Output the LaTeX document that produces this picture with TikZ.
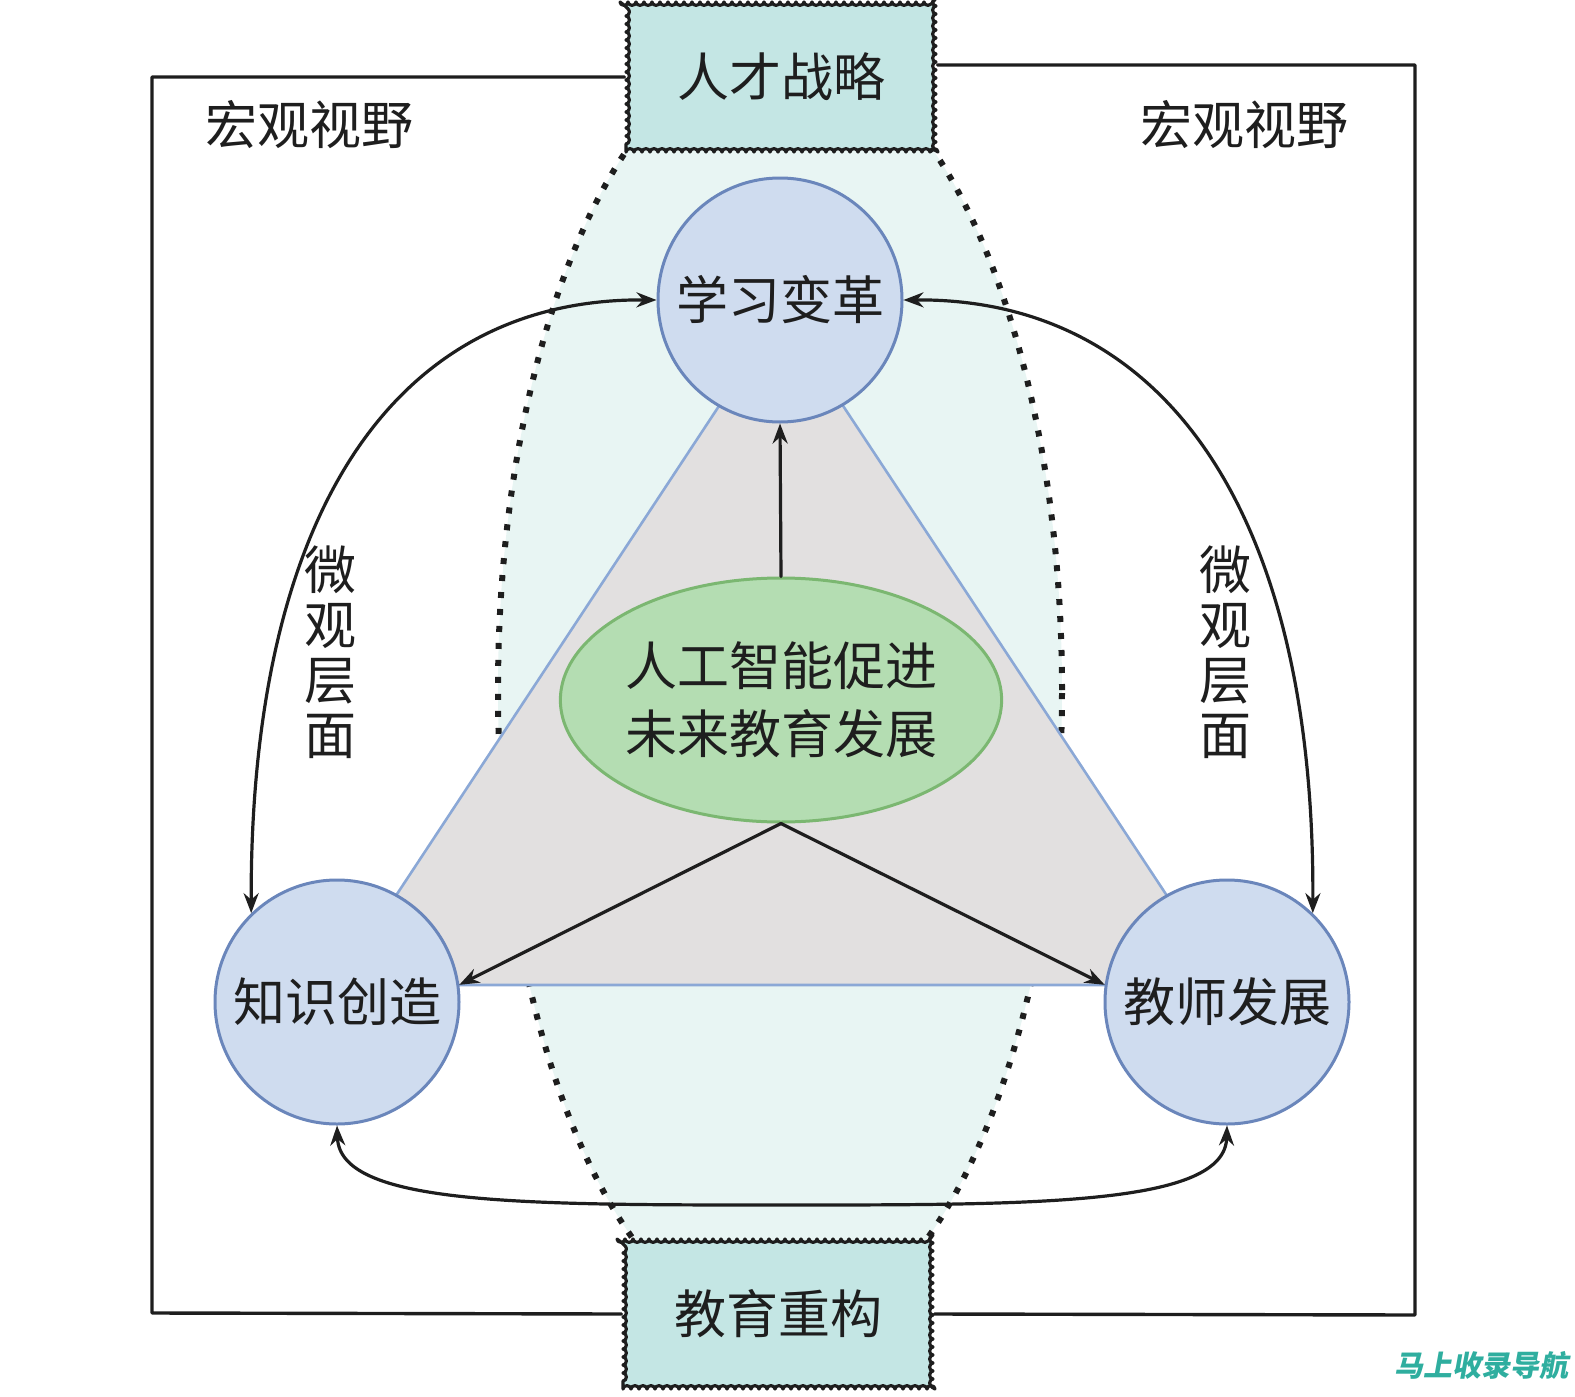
\documentclass[tikz,border=0pt]{standalone}
\usepackage{fontspec}
\setmainfont{Noto Sans CJK SC}
\newfontfamily\markfont[FakeSlant=0.18]{Noto Sans CJK SC}
\usetikzlibrary{arrows.meta,shapes.geometric,decorations.pathmorphing}
\definecolor{ink}{HTML}{1E1E1E}
\definecolor{tagfill}{HTML}{C4E6E4}
\definecolor{zonefill}{HTML}{E8F5F3}
\definecolor{topicfill}{HTML}{CFDCEF}
\definecolor{topicline}{HTML}{6A86BB}
\definecolor{hubfill}{HTML}{B4DDB2}
\definecolor{hubline}{HTML}{7BB771}
\definecolor{trifill}{HTML}{E2E0E0}
\definecolor{triline}{HTML}{8BA8D6}
\definecolor{markc}{HTML}{2FAE9F}
\tikzset{
  every picture/.style={ink, line cap=round, line join=round,
    >={Stealth[length=20pt,width=15pt]}},
  every node/.style={font=\fontsize{52}{68}\selectfont, text=ink},
  % Knoten
  topic/.style={circle, fill=topicfill, draw=topicline, line width=3pt,
    minimum size=244pt, inner sep=0pt},
  hub/.style={ellipse, fill=hubfill, draw=hubline, line width=3pt,
    minimum width=432pt, minimum height=244pt, inner sep=0pt, align=center},
  tag/.style={rectangle, fill=tagfill, draw=ink, line width=3.2pt,
    minimum width=310pt, minimum height=150pt, decorate,
    decoration={bumps, segment length=16pt, amplitude=3.4pt}},
  % Linien
  link/.style={line width=3.2pt, ->},
  twoway/.style={line width=3.2pt, <->},
  frame/.style={line width=3.4pt},
  zone/.style={fill=zonefill, draw=ink, line width=6pt, line cap=butt,
    dash pattern=on 6pt off 11pt},
  vlabel/.style={align=center, font=\fontsize{52}{55}\selectfont},
}
\begin{document}
\begin{tikzpicture}[x=1pt, y=-1pt]
  \useasboundingbox (0,0) rectangle (1575,1397);
  % Zone und Dreieck im Hintergrund
  \draw[zone] (780,690) ellipse [x radius=282pt, y radius=643pt];
  \filldraw[fill=trifill, draw=triline, line width=2.6pt]
    (337,985) -- (1226,985) -- (781,312) -- cycle;
  % Rahmen und Kästen
  \node[tag] (talent) at (781,77) {人才战略};
  \node[tag] (reform) at (778,1314) {教育重构};
  \draw[frame] (talent.west) -- (152,77) -- (152,1313) -- (reform.west);
  \draw[frame] ([yshift=12pt]talent.east) -- (1415,65) -- (1415,1315) -- (reform.east);
  \node (macroL) at (309,125) {宏观视野};
  \node (macroR) at (1244,125) {宏观视野};
  % Themen
  \node[topic] (learn) at (780,300) {学习变革};
  \node[topic] (know) at (337,1002) {知识创造};
  \node[topic] (teach) at (1227,1002) {教师发展};
  \node[hub] (core) at (781,700) {人工智能促进\\未来教育发展};
  % Pfeile
  \draw[link] (core.north) -- (learn.south);
  \draw[link] (core.south) -- (know.8);
  \draw[link] (core.south) -- (teach.172);
  \draw[twoway] (know.134) .. controls (250,520) and (390,298) .. (learn.west);
  \draw[twoway] (teach.46) .. controls (1315,520) and (1170,298) .. (learn.east);
  \draw[twoway] (know.south) .. controls (340,1205) and (520,1205) .. (782,1205)
    .. controls (1040,1205) and (1225,1205) .. (teach.south);
  \node[vlabel] (microL) at (330,652) {微\\观\\层\\面};
  \node[vlabel] (microR) at (1225,652) {微\\观\\层\\面};
  \node[text=markc, font=\markfont\bfseries\fontsize{29}{29}\selectfont] (mark) at (1481,1365) {马上收录导航};
\end{tikzpicture}
\end{document}
